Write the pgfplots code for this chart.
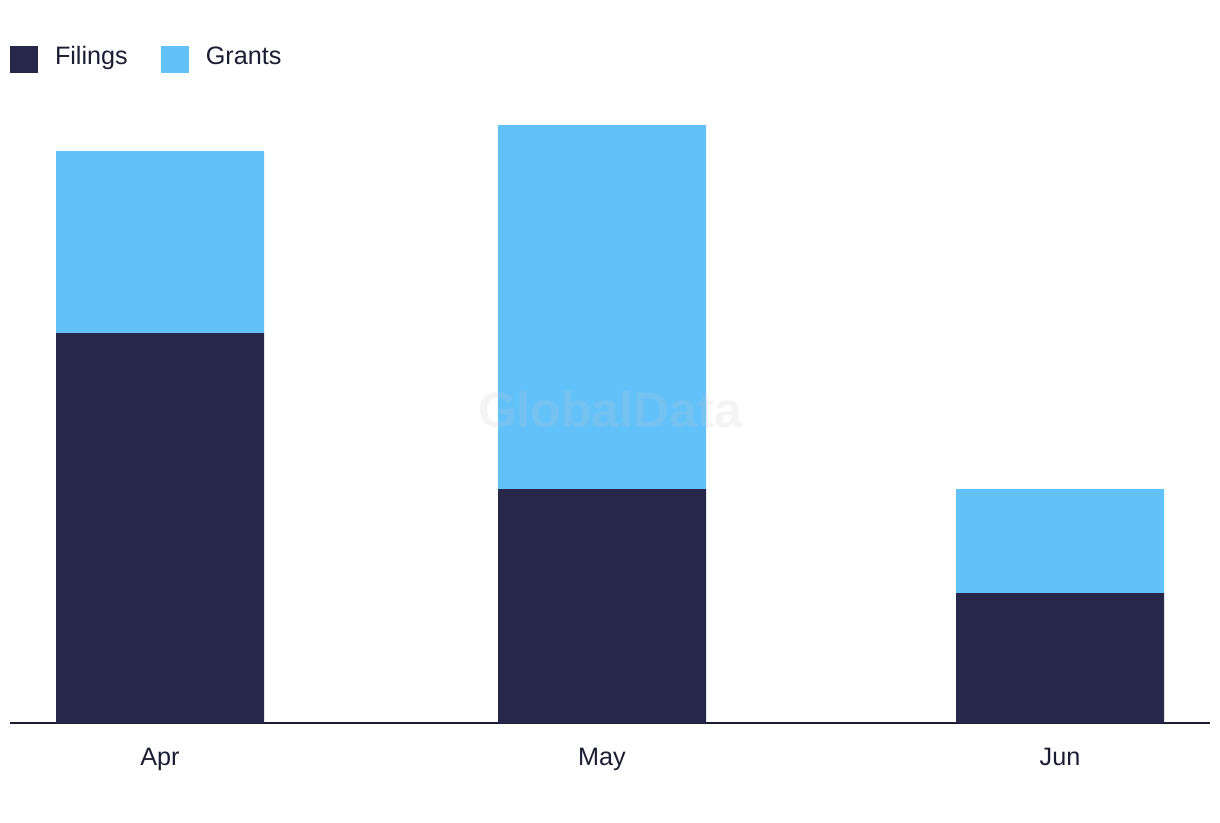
\documentclass[border=0pt]{standalone}
\usepackage{pgfplots}
\pgfplotsset{compat=1.18}
\usepackage{fontspec}
\setmainfont{Liberation Sans}
\definecolor{navy}{HTML}{272849}
\definecolor{sky}{HTML}{63C1F9}
\definecolor{txt}{HTML}{1C1D33}
\definecolor{wm}{RGB}{196,196,196}
\begin{document}
\begin{tikzpicture}
\begin{axis}[
  x=0.5pt, y=13pt,
  xmin=10, xmax=1210, ymin=0, ymax=27.8,
  axis x line*=bottom, axis y line=none,
  x axis line style={line width=1pt, color=txt},
  ybar stacked, bar width=104pt,
  xtick={160,602,1060}, xticklabels={Apr,May,Jun},
  major tick length=0pt,
  xticklabel style={anchor=base, yshift=-21pt, font=\fontsize{12.6pt}{15pt}\selectfont, text=txt, inner sep=0pt},
  clip=false,
  legend image code/.code={\fill[#1] (0pt,-4pt) rectangle (14pt,9.5pt);},
  legend style={at={(axis cs:10,26.04)}, anchor=north west, draw=none, fill=none,
    inner sep=0pt, outer sep=0pt,
    nodes={inner sep=0pt, anchor=base west, font=\fontsize{12.6pt}{15pt}\selectfont, text=txt},
    legend columns=2,
    /tikz/every odd column/.append style={column sep=8.5pt},
    /tikz/every even column/.append style={column sep=16.5pt}},
]
\addplot+[fill=navy, draw=none] coordinates {(160,15) (602,9) (1060,5)};
\addlegendentry{Filings}
\addplot+[fill=sky, draw=none] coordinates {(160,7) (602,14) (1060,4)};
\addlegendentry{Grants}
\coordinate (wmpos) at (axis cs:610,12.04);
\path (axis cs:0,-3.8077) rectangle (axis cs:1220,27.8077);
\end{axis}
\node[font=\bfseries\fontsize{25pt}{30pt}\selectfont, text=wm, text opacity=0.19] at (wmpos) {GlobalData};
\end{tikzpicture}
\end{document}
